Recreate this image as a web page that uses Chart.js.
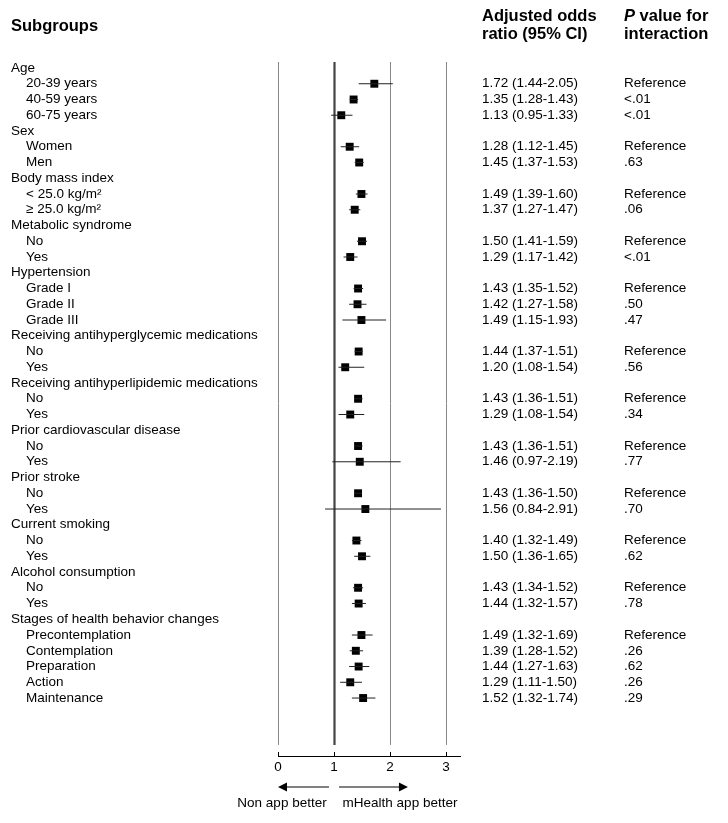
<!DOCTYPE html>
<html>
<head>
    <title>Forest plot</title>
    <script src="https://cdn.jsdelivr.net/npm/chart.js"></script>
    <style>
        body { margin: 0; background: #fff; }
        #forest { display: block; }
    </style>
</head>
<body>
    <canvas id="forest" width="728" height="823"></canvas>

    <script>
        // filas del gráfico: los encabezados de grupo no tienen valores
        const rowLabels = ['Age', '20-39 years', '40-59 years', '60-75 years',
            'Sex', 'Women', 'Men',
            'Body mass index', '< 25.0 kg/m²', '≥ 25.0 kg/m²',
            'Metabolic syndrome', 'No', 'Yes',
            'Hypertension', 'Grade I', 'Grade II', 'Grade III',
            'Receiving antihyperglycemic medications', 'No', 'Yes',
            'Receiving antihyperlipidemic medications', 'No', 'Yes',
            'Prior cardiovascular disease', 'No', 'Yes',
            'Prior stroke', 'No', 'Yes',
            'Current smoking', 'No', 'Yes',
            'Alcohol consumption', 'No', 'Yes',
            'Stages of health behavior changes', 'Precontemplation', 'Contemplation', 'Preparation', 'Action', 'Maintenance'];
        const oddsRatio = [null, 1.72, 1.35, 1.13, null, 1.28, 1.45, null, 1.49, 1.37, null, 1.50, 1.29,
            null, 1.43, 1.42, 1.49, null, 1.44, 1.20, null, 1.43, 1.29, null, 1.43, 1.46,
            null, 1.43, 1.56, null, 1.40, 1.50, null, 1.43, 1.44, null, 1.49, 1.39, 1.44, 1.29, 1.52];
        const ciLower = [null, 1.44, 1.28, 0.95, null, 1.12, 1.37, null, 1.39, 1.27, null, 1.41, 1.17,
            null, 1.35, 1.27, 1.15, null, 1.37, 1.08, null, 1.36, 1.08, null, 1.36, 0.97,
            null, 1.36, 0.84, null, 1.32, 1.36, null, 1.34, 1.32, null, 1.32, 1.28, 1.27, 1.11, 1.32];
        const ciUpper = [null, 2.05, 1.43, 1.33, null, 1.45, 1.53, null, 1.60, 1.47, null, 1.59, 1.42,
            null, 1.52, 1.58, 1.93, null, 1.51, 1.54, null, 1.51, 1.54, null, 1.51, 2.19,
            null, 1.50, 2.91, null, 1.49, 1.65, null, 1.52, 1.57, null, 1.69, 1.52, 1.63, 1.50, 1.74];
        const pInteraction = ['', 'Reference', '<.01', '<.01', '', 'Reference', '.63', '', 'Reference', '.06',
            '', 'Reference', '<.01', '', 'Reference', '.50', '.47', '', 'Reference', '.56',
            '', 'Reference', '.34', '', 'Reference', '.77', '', 'Reference', '.70',
            '', 'Reference', '.62', '', 'Reference', '.78', '', 'Reference', '.26', '.62', '.26', '.29'];
        const xTicks = [0, 1, 2, 3];

        const FONT = '"Liberation Sans", Arial, sans-serif';

        // puntos y líneas de IC
        const squares = [];
        const ciSegments = [];
        oddsRatio.forEach((v, i) => {
            if (v === null) return;
            squares.push({ x: v, y: i });
            ciSegments.push({ x: ciLower[i], y: i }, { x: ciUpper[i], y: i }, { x: null, y: null });
        });

        function arrow(ctx, x1, x2, y) {
            const dir = x2 > x1 ? 1 : -1;
            ctx.beginPath();
            ctx.moveTo(x1, y);
            ctx.lineTo(x2 - dir * 8, y);
            ctx.stroke();
            ctx.beginPath();
            ctx.moveTo(x2, y);
            ctx.lineTo(x2 - dir * 9, y - 4.5);
            ctx.lineTo(x2 - dir * 9, y + 4.5);
            ctx.closePath();
            ctx.fill();
        }

        const forestText = {
            id: 'forestText',
            beforeDatasetsDraw(chart) {
                // líneas verticales de referencia
                const ctx = chart.ctx, x = chart.scales.x, area = chart.chartArea;
                ctx.save();
                xTicks.forEach(t => {
                    const px = Math.round(x.getPixelForValue(t)) + 0.5;
                    ctx.strokeStyle = t === 1 ? '#444' : '#888';
                    ctx.lineWidth = t === 1 ? 2.2 : 1;
                    ctx.beginPath();
                    ctx.moveTo(px, area.top);
                    ctx.lineTo(px, area.bottom - 11);
                    ctx.stroke();
                });
                ctx.restore();
            },
            afterDraw(chart) {
                const ctx = chart.ctx, x = chart.scales.x, y = chart.scales.y;
                ctx.save();
                ctx.fillStyle = '#000';
                ctx.textBaseline = 'middle';

                // encabezados
                ctx.font = 'bold 16.5px ' + FONT;
                ctx.fillText('Subgroups', 11, 26);
                ctx.fillText('Adjusted odds', 482, 16);
                ctx.fillText('ratio (95% CI)', 482, 34);
                ctx.font = 'italic bold 16.5px ' + FONT;
                ctx.fillText('P', 624, 16);
                const pw = ctx.measureText('P').width;
                ctx.font = 'bold 16.5px ' + FONT;
                ctx.fillText(' value for', 624 + pw, 16);
                ctx.fillText('interaction', 624, 34);

                // columnas de texto
                ctx.font = '13.5px ' + FONT;
                rowLabels.forEach((label, i) => {
                    const py = y.getPixelForValue(i);
                    const isGroup = oddsRatio[i] === null;
                    ctx.fillText(label, isGroup ? 11 : 26, py);
                    if (!isGroup) {
                        ctx.fillText(oddsRatio[i].toFixed(2) + ' (' + ciLower[i].toFixed(2) + '-' + ciUpper[i].toFixed(2) + ')', 482, py);
                        ctx.fillText(pInteraction[i], 624, py);
                    }
                });

                // flechas bajo el eje
                ctx.strokeStyle = '#000';
                ctx.lineWidth = 1;
                arrow(ctx, x.getPixelForValue(0.91), x.getPixelForValue(0), 787);
                arrow(ctx, x.getPixelForValue(1.09), x.getPixelForValue(2.32), 787);
                ctx.textAlign = 'center';
                ctx.fillText('Non app better', 282, 803);
                ctx.fillText('mHealth app better', 400, 803);
                ctx.restore();
            }
        };

        new Chart(document.getElementById('forest'), {
            type: 'scatter',
            data: {
                datasets: [{
                    type: 'line',
                    data: ciSegments,
                    borderColor: '#222',
                    borderWidth: 1,
                    pointRadius: 0,
                    spanGaps: false,
                    fill: false
                }, {
                    data: squares,
                    pointStyle: 'rect',
                    pointRadius: 5.6,
                    backgroundColor: '#000',
                    borderColor: '#000',
                    borderWidth: 0
                }]
            },
            options: {
                responsive: false,
                animation: false,
                layout: { padding: { left: 278, right: 268, top: 62, bottom: 42 } },
                plugins: { legend: { display: false }, tooltip: { enabled: false } },
                scales: {
                    x: {
                        type: 'linear',
                        min: 0,
                        max: 3.25,
                        afterFit: s => { s.height = 25; },
                        afterBuildTicks: s => { s.ticks = xTicks.map(v => ({ value: v })); },
                        ticks: { color: '#000', font: { size: 13.5, family: FONT }, padding: 7 },
                        grid: { drawOnChartArea: false, tickLength: -4, color: '#000' },
                        border: { color: '#000', width: 1 }
                    },
                    y: {
                        type: 'linear',
                        display: false,
                        reverse: true,
                        min: -0.38,
                        max: 43.68
                    }
                }
            },
            plugins: [forestText]
        });
    </script>
</body>
</html>
